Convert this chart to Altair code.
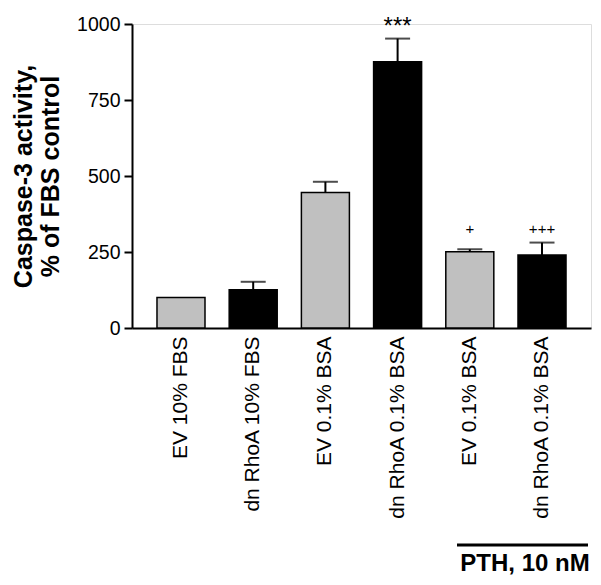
import altair as alt
import pandas as pd

categories = ["EV 10% FBS", "dn RhoA 10% FBS", "EV 0.1% BSA",
              "dn RhoA 0.1% BSA", "EV 0.1% BSA ", "dn RhoA 0.1% BSA "]
vector = ["EV", "dn RhoA", "EV", "dn RhoA", "EV", "dn RhoA"]
means = [100, 126, 446, 876, 251, 240]
errors = [0, 26, 35, 76, 8, 41]
sig = ["", "", "", "***", "+", "+++"]
sig_y = [None, None, None, 968, 308, 308]
y_ticks = [0, 250, 500, 750, 1000]

df = pd.DataFrame({
    "cat": categories, "vector": vector, "mean": means,
    "err": errors, "sig": sig, "sig_y": sig_y,
})
df["top"] = df["mean"] + df["err"]

FONT = "Liberation Sans"
W, H = 459, 304

xenc = alt.X("cat:N", sort=categories,
             scale=alt.Scale(paddingInner=0.335, paddingOuter=0.346),
             axis=alt.Axis(title=None, labelAngle=-90, ticks=False, labelPadding=8,
                           labelFontSize=21, labelFont=FONT, labelColor="black",
                           domainColor="black", domainWidth=2, labelLimit=400,
                           labelExpr="trim(datum.label)"))

base = alt.Chart(df)

bars = base.mark_bar(stroke="black", strokeWidth=1.5).encode(
    x=xenc,
    y=alt.Y("mean:Q", scale=alt.Scale(domain=[0, 1000], nice=False),
            axis=alt.Axis(values=y_ticks, format="d",
                          title=["Caspase-3 activity,", "% of FBS control"],
                          titleFont=FONT, titleFontSize=25, titleFontWeight="bold",
                          titleColor="black", titlePadding=13, titleLineHeight=27,
                          labelFont=FONT, labelFontSize=19.5, labelColor="black",
                          labelPadding=4, tickSize=8, tickWidth=2, tickColor="black",
                          domainColor="black", domainWidth=2, grid=False)),
    fill=alt.Fill("vector:N", scale=alt.Scale(domain=["EV", "dn RhoA"],
                                              range=["#c0c0c0", "#000000"]), legend=None),
)

stems = base.transform_filter("datum.err > 0").mark_rule(color="black", strokeWidth=2).encode(
    x=alt.X("cat:N", sort=categories), y="mean:Q", y2="top:Q")

caps = base.transform_filter("datum.err > 0").mark_tick(
    color="black", thickness=2, size=25, orient="horizontal").encode(
    x=alt.X("cat:N", sort=categories), y="top:Q")

stars = base.transform_filter("datum.sig == '***'").mark_text(
    font=FONT, fontSize=24, baseline="alphabetic", color="black").encode(
    x=alt.X("cat:N", sort=categories), y="sig_y:Q", text="sig:N")

plus = base.transform_filter("datum.sig == '+' || datum.sig == '+++'").mark_text(
    font=FONT, fontSize=15, baseline="alphabetic", color="black").encode(
    x=alt.X("cat:N", sort=categories), y="sig_y:Q", text="sig:N")

pth_line = alt.Chart(pd.DataFrame({"a": [0]})).mark_rule(color="black", strokeWidth=3).encode(
    x=alt.value(325), x2=alt.value(456), y=alt.value(521))

pth_text = alt.Chart(pd.DataFrame({"t": ["PTH, 10 nM"]})).mark_text(
    font=FONT, fontSize=24, fontWeight="bold", color="black", baseline="alphabetic").encode(
    x=alt.value(393), y=alt.value(547), text="t:N")

chart = alt.layer(bars, stems, caps, stars, plus, pth_line, pth_text).properties(
    width=W, height=H,
    autosize=alt.AutoSizeParams(type="none"),
    padding={"left": 124, "top": 16, "right": 2, "bottom": 249},
).configure_view(stroke=None).configure(background="white")

chart.save("out.html", embed_options={"renderer": "svg", "actions": False})
